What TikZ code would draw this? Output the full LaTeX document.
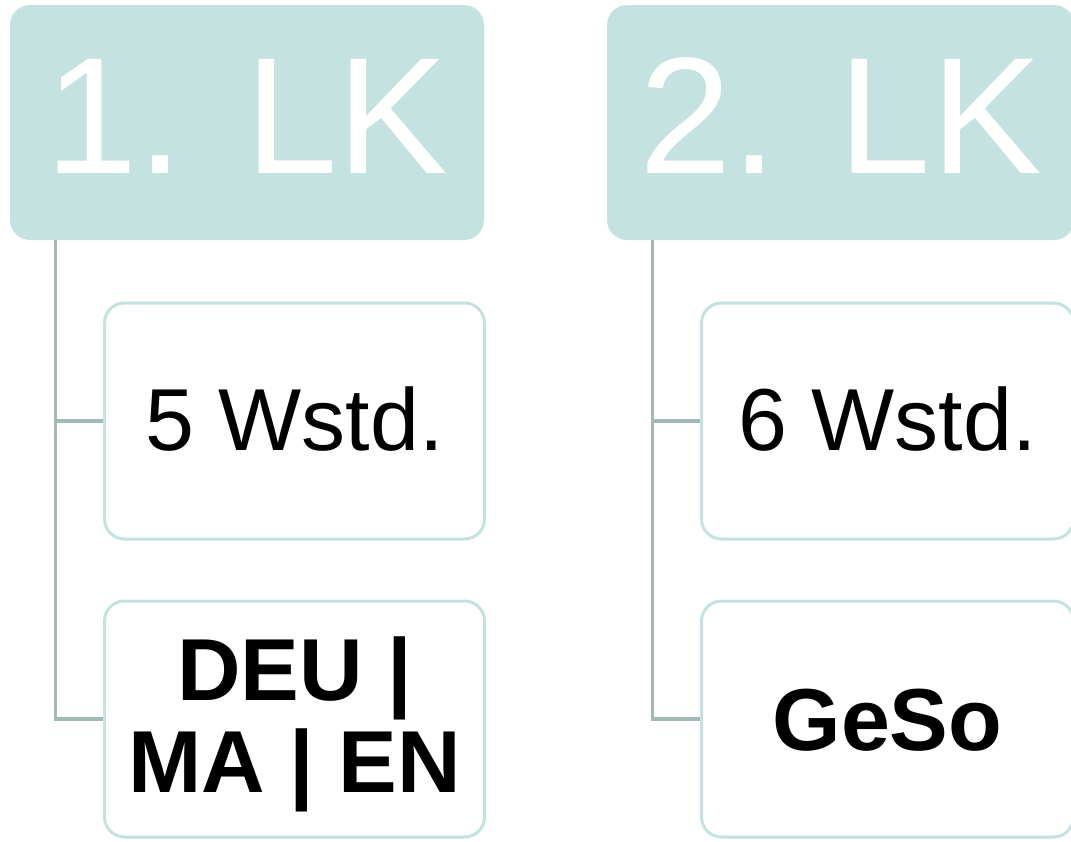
\documentclass[tikz,border=0pt]{standalone}
\usepackage{fontspec}
\setmainfont{Liberation Sans}
\definecolor{headfill}{HTML}{C4E2DF}
\definecolor{connclr}{HTML}{A2BAB6}
\tikzset{
  headbox/.style={fill=headfill, rounded corners=20pt, inner sep=0pt, text=white,
    font=\fontsize{166}{166}\selectfont, text height=119pt, text depth=18pt},
  childbox/.style={draw=headfill, line width=3pt, fill=white, rounded corners=20pt, inner sep=0pt,
    minimum height=236pt, text=black, align=center},
  big/.style={font=\fontsize{88}{92}\selectfont, text height=63pt, text depth=5pt},
  bigbold/.style={font=\fontsize{88}{92}\selectfont\bfseries},
  conn/.style={draw=connclr, line width=3.2pt}
}
\begin{document}
\begin{tikzpicture}[x=1pt,y=-1pt]
\useasboundingbox (0,0) rectangle (1071,841);
% column 1
\node[headbox, minimum width=474pt, minimum height=235pt] (h1) at (247,122.5) {1. LK};
\node[childbox, big, minimum width=380pt] (a1) at (294.5,421) {5 Wstd.};
\node[childbox, bigbold, minimum width=380pt, text depth=8pt] (b1) at (294.5,719) {DEU |\\MA | EN};
\draw[conn] ([xshift=46pt]h1.south west) |- (a1.west);
\draw[conn] ([xshift=46pt]h1.south west) |- (b1.west);
% column 2
\node[headbox, minimum width=467pt, minimum height=235pt] (h2) at (840.5,122.5) {2. LK};
\node[childbox, big, minimum width=372pt] (a2) at (887.5,421) {6 Wstd.};
\node[childbox, bigbold, minimum width=372pt, text height=63pt, text depth=0pt] (b2) at (887.5,719) {GeSo};
\draw[conn] ([xshift=46pt]h2.south west) |- (a2.west);
\draw[conn] ([xshift=46pt]h2.south west) |- (b2.west);
\end{tikzpicture}
\end{document}
